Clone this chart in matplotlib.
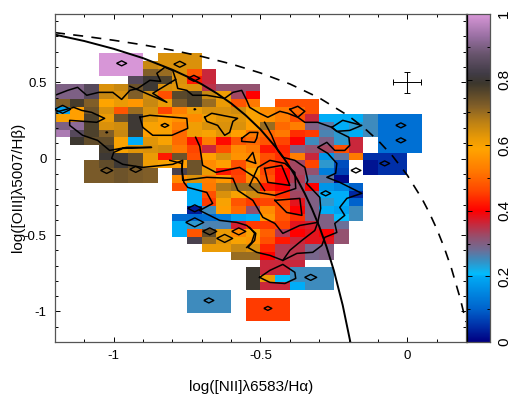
import numpy as np
import matplotlib
matplotlib.use('Agg')
import matplotlib.pyplot as plt
from matplotlib.colors import LinearSegmentedColormap

plt.rcParams['font.family'] = ['Liberation Sans', 'DejaVu Sans']

n = np.nan
x_edges = np.arange(26) * 0.05 - 1.2
y_edges = 0.69 - np.arange(36) * 0.05


def row(first, vals):
    out = [n] * first + list(vals)
    return out + [n] * (25 - len(out))


grid = [
    row(3, [1, 1, 1, n, .64, .64, .64]),
    row(3, [1, 1, 1, .66, .64, .64, .64]),
    row(3, [1, 1, 1, .72, .70, .64, .48, .36]),
    row(5, [.85, .80, .77, .64, .42, .36]),
    row(0, [.90, .90, .85, .64, .66, .74, .80, .64, .63, .64, .35, .32, .32, .32]),
    row(0, [.90, .90, .85, .66, .64, .72, .65, .47, .76, .77, .66, .61, .33, .40]),
    row(0, [.72, .78, .72, .59, .62, .57, .66, .62, .73, .77, .70, .62, .48, .52, n, .47, .47, .47]),
    row(0, [.19, .58, .74, .64, .48, .70, .64, .46, .53, .61, .64, .64, .65, .60, .55, .52, .50, .47]),
    row(0, [.60, .58, .77, .62, .74, .80, .63, .58, .56, .55, .61, .63, .63, .60, .56, .53, .47, .36, .20, .20, .20, .25, .12, .12, .12]),
    row(0, [.90, .92, .77, .64, .65, .80, .60, .58, .53, .61, .64, .64, .64, .58, .70, .50, .53, .30, .27, .20, .24, .25, .12, .12, .12]),
    row(0, [.95, .85, .77, .72, .66, .78, .58, .60, .50, .61, .60, .63, .58, .52, .50, .52, .44, .45, .26, .24, .20, .25, .12, .12, .12]),
    row(1, [.79, .75, .75, .60, .20, .63, .60, .50, .42, .53, .41, .48, .50, .48, .46, .40, .25, .30, .24, .36, n, .12, .12, .12]),
    row(3, [.78, .60, .63, .64, .65, .52, .46, .36, .47, .55, .52, .42, .43, .30, .32, .33, .47, .36, n, .12, .12, .12]),
    row(3, [.80, .80, .75, .62, .42, .74, .47, .58, .64, .56, .55, .47, .44, .53, .36, .17, .27, .52, .05, .05, .05]),
    row(2, [.73, .75, .80, .75, .61, .60, .58, .74, .55, .58, .47, .55, .46, .44, .33, .46, .24, .08, n, .02, .05, .05]),
    row(2, [.73, .73, .74, .73, .72, n, .83, .74, .62, .42, .45, .60, .46, .40, .33, .32, .14, .07, n, .02, .05, .05]),
    row(2, [.73, .73, .74, .73, .72, n, .55, .64, .53, .57, .46, .55, .48, .40, .34, .27, .27, .01]),
    row(8, [.47, .20, .52, .68, .70, .70, .42, .40, .32, .40, .17, .15, .10]),
    row(9, [.20, .47, .64, .60, .65, .50, .44, .33, .30, .20, .20, .04]),
    row(9, [.20, .45, .60, .48, .45, .46, .47, .38, .30, .24, .20, .10]),
    row(9, [.03, .25, .58, .50, .32, .55, .48, .40, .30, .20, .19, .25]),
    row(8, [.11, .11, .12, .14, .19, .20, .57, .48, .44, .30, .30, .21, .25]),
    row(8, [.20, .24, .26, .26, .37, .45, .45, .46, .38, .37, .30, .28]),
    row(8, [.20, .48, .75, .62, .54, .60, .49, .34, .40, .38, .40, .32]),
    row(9, [.83, .70, .63, .60, .57, .47, .42, .36, .38, .38, .32]),
    row(10, [.62, .62, .66, .64, .43, .34, .35, .29, .30]),
    row(12, [.70, .70, .40, .34, .35, .29, .30]),
    row(14, [.36, .36, .36]),
    row(13, [.79, .36, .36, .25, .25, .25]),
    row(13, [.79, .62, .21, .25, .25, .25]),
    row(13, [.79, .36, .36, .20, .25, .25]),
    row(9, [.25, .25, .25]),
    row(9, [.25, .25, .25, n, .45, .45, .45]),
    row(9, [.25, .25, .25, n, .45, .45, .45]),
    row(13, [.45, .45, .45]),
]

kauffmann_x = [-1.2, -1.1, -1.0, -.9, -.8, -.75, -.7, -.65, -.6, -.55, -.5, -.45, -.425, -.4, -.375, -.35, -.325, -.3, -.275, -.25, -.22, -.194]
kauffmann_y = [.812, .770, .719, .658, .582, .5375, .487, .429, .362, .283, .191, .080, .016, -.056, -.135, -.225, -.327, -.443, -.577, -.733, -.959, -1.2]
kewley_x = [-1.2, -1.1, -1.0, -.9, -.8, -.7, -.6, -.5, -.4, -.3, -.2, -.15, -.1, -.05, 0, .05, .075, .1, .125, .15, .18, .2]
kewley_y = [.825, .8015, .775, .745, .710, .669, .620, .561, .489, .398, .280, .206, .120, .017, -.108, -.262, -.354, -.458, -.578, -.716, -.913, -1.069]

contour_main = [(-1.2, .415), (-1.157, .447), (-1.123, .467), (-1.092, .415), (-1.051, .434), (-1.003, .434),
                (-.973, .388), (-.945, .447), (-.918, .460), (-.877, .513), (-.840, .506), (-.853, .559),
                (-.826, .598), (-.799, .578), (-.789, .519), (-.782, .460), (-.751, .447), (-.731, .415),
                (-.683, .415), (-.622, .395), (-.594, .434), (-.564, .447), (-.547, .382), (-.537, .336),
                (-.503, .297), (-.475, .271), (-.434, .310), (-.407, .297), (-.373, .271), (-.349, .238),
                (-.305, .238), (-.257, .205), (-.240, .179), (-.199, .140), (-.196, .087), (-.213, .054),
                (-.247, .054), (-.274, .107), (-.305, .074), (-.271, .035), (-.240, -.031), (-.244, -.096),
                (-.274, -.122), (-.230, -.155), (-.155, -.227), (-.206, -.260), (-.230, -.319), (-.213, -.371),
                (-.247, -.424), (-.240, -.483), (-.281, -.515), (-.291, -.568), (-.322, -.613), (-.376, -.620),
                (-.424, -.666), (-.468, -.633), (-.513, -.613), (-.543, -.581), (-.520, -.535), (-.516, -.489),
                (-.547, -.437), (-.581, -.417), (-.639, -.404), (-.707, -.339), (-.663, -.293), (-.683, -.221),
                (-.748, -.188), (-.761, -.155), (-.768, -.077), (-.765, -.011), (-.799, -.037), (-.901, -.057),
                (-.969, -.037), (-1.007, .002), (-1.0, .041), (-.969, .067), (-.871, .074), (-.956, .074),
                (-1.014, .054), (-1.055, .120), (-1.106, .153), (-1.150, .218), (-1.150, .251), (-1.058, .238),
                (-1.031, .264), (-1.075, .303), (-1.109, .316), (-1.136, .336), (-1.2, .303)]
contour_spike = [(-.945, .474), (-.819, .369), (-.867, .428), (-.789, .519)]
contour_mid = [(-.486, .238), (-.462, .153), (-.441, .054), (-.424, .009), (-.383, -.011), (-.349, -.057),
               (-.339, -.142), (-.343, -.162), (-.298, -.253), (-.295, -.325), (-.305, -.417), (-.315, -.470),
               (-.359, -.535), (-.400, -.600), (-.424, -.666)]
contour_lower = [(-.809, -.011), (-.768, -.031), (-.765, -.142), (-.683, -.122), (-.594, -.129), (-.577, -.208),
                 (-.526, -.273), (-.492, -.384), (-.451, -.424), (-.424, -.489), (-.366, -.437), (-.305, -.417)]
contour_upper = [(-.721, .140), (-.707, .081), (-.697, -.044), (-.652, -.090), (-.571, -.057), (-.513, -.129), (-.486, -.208)]
contour_edge = [(-.537, -.450), (-.520, -.489), (-.530, -.548), (-.547, -.581)]
closed_contours = [
    [(-.911, .271), (-.877, .284), (-.751, .264), (-.748, .198), (-.802, .153), (-.867, .153), (-.901, .205)],
    [(-.690, .271), (-.666, .297), (-.578, .264), (-.594, .244), (-.605, .172), (-.622, .153), (-.646, .218), (-.683, .244)],
    [(-.564, .133), (-.537, .172), (-.509, .172), (-.513, .133), (-.520, .107), (-.564, .113)],
    [(-.400, .323), (-.373, .343), (-.349, .310), (-.373, .271)],
    [(-.257, .205), (-.220, .251), (-.155, .218), (-.196, .185), (-.240, .179)],
    [(-.547, -.011), (-.526, .041), (-.516, -.031)],
    [(-.537, -.175), (-.509, -.057), (-.468, -.011), (-.417, -.031), (-.383, -.09), (-.380, -.195), (-.451, -.24), (-.509, -.221)],
    [(-.486, -.064), (-.428, -.044), (-.400, -.175), (-.475, -.155)],
    [(-.451, -.273), (-.366, -.260), (-.359, -.371), (-.411, -.352)],
    [(-.503, -.777), (-.468, -.731), (-.424, -.692), (-.383, -.744), (-.380, -.784), (-.417, -.817), (-.468, -.810)],
]

diamond_x = [-.973, -.775, -.727, -1.024, -.925, -.826, -.022, -.022, -.077, -.175, -.278, -.329, -.475, -.676, -1.174, -.724, -1.024, -.724, -.724, -.673, -.622, -.574]
diamond_y = [.624, .618, .526, -.077, -.070, .218, .218, .120, -.031, -.077, -.227, -.777, -.980, -.928, .323, .323, .172, -.325, -.417, -.476, -.522, -.476]
diamond_width = [5, 6, 6, 6, 6, 4, 5, 5, 5, 5, 5, 6, 4, 5, 8, 1, 1, 7, 9, 7, 8, 7]

cbar_ticks = [0, .2, .4, .6, .8, 1]
cbar_labels = ['0', '0.2', '0.4', '0.6', '0.8', '1']

cmap_nodes = [(0, (0, 0, 130)), (.05, (0, 50, 170)), (.1, (0, 100, 205)), (.199, (0, 170, 245)),
              (.205, (0, 190, 255)), (.25, (60, 140, 190)), (.28, (110, 110, 150)), (.32, (150, 80, 110)),
              (.36, (200, 40, 60)), (.40, (255, 0, 0)), (.46, (255, 70, 0)), (.52, (255, 120, 0)),
              (.59, (255, 165, 0)), (.62, (235, 155, 5)), (.67, (190, 130, 20)), (.72, (130, 95, 40)),
              (.79, (60, 55, 45)), (.82, (65, 60, 70)), (.88, (105, 85, 110)), (.93, (150, 110, 160)),
              (1, (215, 150, 215))]
cmap = LinearSegmentedColormap.from_list('bpt', [(v, tuple(c / 255 for c in rgb)) for v, rgb in cmap_nodes], N=256)
cmap.set_bad('white')

fig = plt.figure(figsize=(5.29, 4.09), dpi=100)
ax = fig.add_axes([55 / 529, 67 / 409, 411 / 529, 328 / 409])
ax.pcolormesh(x_edges, y_edges, np.ma.masked_invalid(np.array(grid, dtype=float)), cmap=cmap, vmin=0, vmax=1)

for c in [contour_main, contour_spike, contour_mid, contour_lower, contour_upper, contour_edge]:
    ax.plot(*zip(*c), color='k', lw=1.1)
for c in closed_contours:
    ax.plot(*zip(*(c + c[:1])), color='k', lw=1.1)

diamond = [(-1, 0), (0, .5), (1, 0), (0, -.5), (-1, 0)]
ax.scatter(diamond_x, diamond_y, s=(np.array(diamond_width) * 1.44) ** 2, marker=diamond,
           facecolors='none', edgecolors='k', linewidths=1.0, zorder=3)

ax.plot(kauffmann_x, kauffmann_y, color='k', lw=1.4)
ax.plot(kewley_x, kewley_y, color='k', lw=1.2, dashes=(6, 5))
ax.errorbar([0], [.5], xerr=[.047], yerr=[.07], color='k', lw=.7, capsize=2.2, capthick=.7)

ax.set_xlim(-1.2, .2)
ax.set_ylim(-1.2, .947)
ax.set_xticks([-1, -.5, 0])
ax.set_xticklabels(['-1', '-0.5', '0'])
ax.set_yticks([-1, -.5, 0, .5])
ax.set_yticklabels(['-1', '-0.5', '0', '0.5'])
ax.set_xticks(np.arange(-1.2, .21, .1), minor=True)
ax.set_yticks(np.arange(-1.2, .91, .1), minor=True)
ax.tick_params(which='major', direction='in', top=True, right=True, length=3.5, width=.7, labelsize=9.5, pad=6)
ax.tick_params(which='minor', direction='in', top=True, right=True, length=2.2, width=.7)
for s in ax.spines.values():
    s.set_linewidth(.9)
    s.set_color('#555555')
ax.set_xlabel('log([NII]λ6583/Hα)', fontsize=11, labelpad=13, x=.477)
ax.set_ylabel('log([OIII]λ5007/Hβ)', fontsize=11, labelpad=-1, y=.47)

cax = fig.add_axes([467 / 529, 67 / 409, 23 / 529, 328 / 409])
gradient = np.linspace(0, 1, 256).reshape(-1, 1)
cax.imshow(gradient, aspect='auto', origin='lower', extent=[0, 1, 0, 1], cmap=cmap, vmin=0, vmax=1)
cax.set_xticks([])
cax.set_yticks(cbar_ticks)
cax.set_yticklabels(cbar_labels, rotation=90, va='center', fontsize=11)
cax.set_yticks(np.arange(.1, 1, .2), minor=True)
cax.yaxis.tick_right()
cax.tick_params(which='major', direction='in', left=True, right=True, length=3.5, width=.7, pad=5)
cax.tick_params(which='minor', direction='in', left=True, right=True, length=2.5, width=.7)
for s in cax.spines.values():
    s.set_linewidth(.9)
    s.set_color('#555555')
cax.spines['left'].set_color('k')

fig.savefig('out.png', dpi=100)
